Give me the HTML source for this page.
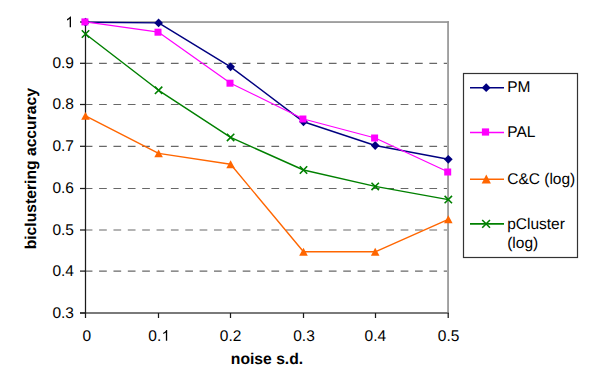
<!DOCTYPE html>
<html>
<head>
<meta charset="utf-8">
<style>
html,body{margin:0;padding:0;background:#fff;}
body{width:600px;height:388px;overflow:hidden;}
svg{display:block;}
text{font-family:"Liberation Sans",sans-serif;fill:#000;text-rendering:geometricPrecision;}
</style>
</head>
<body>
<svg width="600" height="388" viewBox="0 0 600 388">
<rect x="0" y="0" width="600" height="388" fill="#fff"/>
<g stroke="#686868" stroke-width="1.2" stroke-dasharray="7.7 6.66" fill="none">
<line x1="84.74" y1="63.3" x2="447" y2="63.3"/>
<line x1="84.74" y1="104.5" x2="447" y2="104.5"/>
<line x1="84.74" y1="146.3" x2="447" y2="146.3"/>
<line x1="84.74" y1="188.5" x2="447" y2="188.5"/>
<line x1="84.74" y1="230.0" x2="447" y2="230.0"/>
<line x1="84.74" y1="271.1" x2="447" y2="271.1"/>
</g>
<g fill="#959595">
<rect x="85" y="21.2" width="364" height="1.7"/>
<rect x="447.2" y="21.2" width="1.7" height="292"/>
</g>
<rect x="80" y="312" width="369" height="2" fill="#7a7a7a"/>
<g stroke="#1a1a1a" stroke-width="1.25" fill="none">
<line x1="85.5" y1="21" x2="85.5" y2="318"/>
<line x1="80" y1="22" x2="85" y2="22"/>
<line x1="80" y1="63.3" x2="85" y2="63.3"/>
<line x1="80" y1="104.5" x2="85" y2="104.5"/>
<line x1="80" y1="146.3" x2="85" y2="146.3"/>
<line x1="80" y1="188.5" x2="85" y2="188.5"/>
<line x1="80" y1="230.0" x2="85" y2="230.0"/>
<line x1="80" y1="271.1" x2="85" y2="271.1"/>
<line x1="80" y1="313" x2="85" y2="313"/>
<line x1="158.5" y1="313" x2="158.5" y2="318"/>
<line x1="230.5" y1="313" x2="230.5" y2="318"/>
<line x1="303.5" y1="313" x2="303.5" y2="318"/>
<line x1="375.5" y1="313" x2="375.5" y2="318"/>
<line x1="448.2" y1="313" x2="448.2" y2="318"/>
</g>
<g font-size="15.5" text-anchor="end">
<text x="74" y="68.2">0.9</text>
<text x="74" y="109.4">0.8</text>
<text x="74" y="151.2">0.7</text>
<text x="74" y="193.4">0.6</text>
<text x="74" y="234.9">0.5</text>
<text x="74" y="276.0">0.4</text>
<text x="74" y="317.9">0.3</text>
</g>
<path transform="translate(65.4,27.2) scale(0.007324,-0.007324)" d="M763 0H583V1147Q518 1085 412.5 1023Q307 961 223 930V1104Q374 1175 487 1276Q600 1377 647 1466H763Z" fill="#000"/>
<g font-size="15.5" text-anchor="middle">
<text x="86.9" y="341">0</text>
<text x="230.6" y="341">0.2</text>
<text x="304" y="341">0.3</text>
<text x="375.3" y="341">0.4</text>
<text x="448.6" y="341">0.5</text>
</g>
<text x="148.3" y="341" font-size="15.5">0.</text>
<path transform="translate(161.6,340.8) scale(0.007324,-0.007324)" d="M763 0H583V1147Q518 1085 412.5 1023Q307 961 223 930V1104Q374 1175 487 1276Q600 1377 647 1466H763Z" fill="#000"/>
<text x="267" y="363.6" font-size="15.7" font-weight="bold" text-anchor="middle">noise s.d.</text>
<text transform="translate(36,168.7) rotate(-90)" font-size="15.7" font-weight="bold" text-anchor="middle">biclustering accuracy</text>
<polyline fill="none" stroke="#000080" stroke-width="1.45" stroke-linejoin="round" points="85.5,22.2 158.6,22.9 230.6,66.8 303.5,121.8 375.2,145.5 448.3,159.3"/>
<g fill="#000080"><path d="M85.50 17.80 L89.90 22.20 L85.50 26.60 L81.10 22.20Z"/><path d="M158.60 18.50 L163.00 22.90 L158.60 27.30 L154.20 22.90Z"/><path d="M230.60 62.40 L235.00 66.80 L230.60 71.20 L226.20 66.80Z"/><path d="M303.50 117.40 L307.90 121.80 L303.50 126.20 L299.10 121.80Z"/><path d="M375.20 141.10 L379.60 145.50 L375.20 149.90 L370.80 145.50Z"/><path d="M448.30 154.90 L452.70 159.30 L448.30 163.70 L443.90 159.30Z"/></g>
<polyline fill="none" stroke="#ff00ff" stroke-width="1.2" stroke-linejoin="round" points="85.5,21.9 158.6,32.2 230.6,83.2 303.5,119.0 375.2,138.0 448.3,172.0"/>
<g fill="#ff00ff"><rect x="81.40" y="18.40" width="7" height="7"/><rect x="154.50" y="28.70" width="7" height="7"/><rect x="226.50" y="79.70" width="7" height="7"/><rect x="299.40" y="115.50" width="7" height="7"/><rect x="371.10" y="134.50" width="7" height="7"/><rect x="444.20" y="168.50" width="7" height="7"/></g>
<polyline fill="none" stroke="#ff6600" stroke-width="1.4" stroke-linejoin="round" points="85.5,115.9 158.6,153.4 230.6,164.2 303.5,251.8 375.2,251.8 448.3,219.3"/>
<g fill="#ff6600"><path d="M85.5 111.95 L89.80 119.85 L81.20 119.85Z"/><path d="M158.6 149.45 L162.90 157.35 L154.30 157.35Z"/><path d="M230.6 160.25 L234.90 168.15 L226.30 168.15Z"/><path d="M303.5 247.85 L307.80 255.75 L299.20 255.75Z"/><path d="M375.2 247.85 L379.50 255.75 L370.90 255.75Z"/><path d="M448.3 215.35 L452.60 223.25 L444.00 223.25Z"/></g>
<polyline fill="none" stroke="#008000" stroke-width="1.45" stroke-linejoin="round" points="85.5,34.0 158.6,90.3 230.6,137.4 303.5,170.0 375.2,186.4 448.3,199.6"/>
<g stroke="#008000" stroke-width="1.6" fill="none"><path d="M81.80 30.30 L89.20 37.70 M89.20 30.30 L81.80 37.70"/><path d="M154.90 86.60 L162.30 94.00 M162.30 86.60 L154.90 94.00"/><path d="M226.90 133.70 L234.30 141.10 M234.30 133.70 L226.90 141.10"/><path d="M299.80 166.30 L307.20 173.70 M307.20 166.30 L299.80 173.70"/><path d="M371.50 182.70 L378.90 190.10 M378.90 182.70 L371.50 190.10"/><path d="M444.60 195.90 L452.00 203.30 M452.00 195.90 L444.60 203.30"/></g>
<rect x="463.5" y="73.5" width="114" height="184" fill="#fff" stroke="#333" stroke-width="1.2"/>
<line x1="470" y1="87.7" x2="504" y2="87.7" stroke="#000080" stroke-width="1.6"/>
<g fill="#000080"><path d="M486.20 83.30 L490.60 87.70 L486.20 92.10 L481.80 87.70Z"/></g>
<line x1="470" y1="132.5" x2="504" y2="132.5" stroke="#ff00ff" stroke-width="1.6"/>
<g fill="#ff00ff"><rect x="481.90" y="128.40" width="7.2" height="7.2"/></g>
<line x1="470" y1="179.3" x2="504" y2="179.3" stroke="#ff6600" stroke-width="1.6"/>
<g fill="#ff6600"><path d="M486.3 174.40 L490.90 183.40 L481.70 183.40Z"/></g>
<line x1="470" y1="223.9" x2="504" y2="223.9" stroke="#008000" stroke-width="1.6"/>
<g stroke="#008000" stroke-width="1.6" fill="none"><path d="M482.20 220.00 L490.00 227.80 M490.00 220.00 L482.20 227.80"/></g>
<g font-size="15.5">
<text x="507.2" y="91.7">PM</text>
<text x="507.2" y="136.6">PAL</text>
<text x="507.2" y="183.6">C&amp;C (log)</text>
<text x="507.2" y="228.6">pCluster</text>
<text x="507.2" y="248.3">(log)</text>
</g>
</svg>
</body>
</html>
